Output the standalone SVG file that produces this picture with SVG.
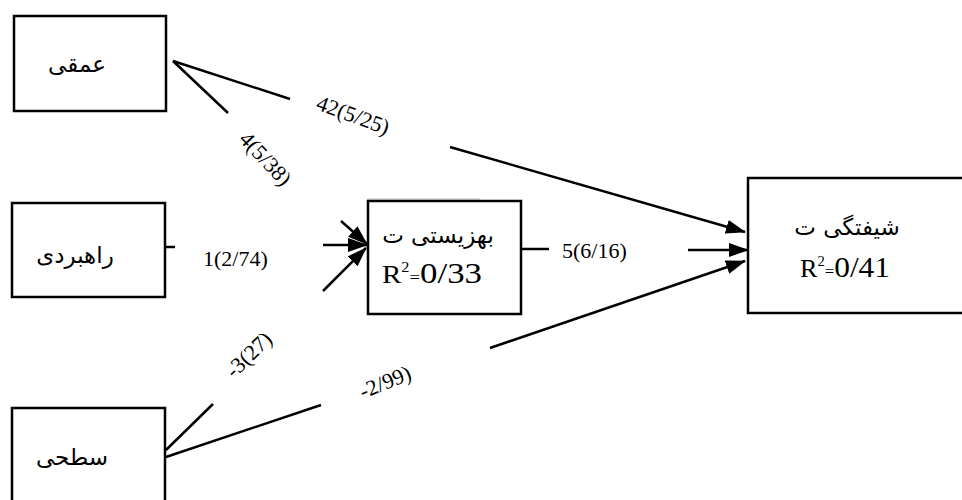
<svg xmlns="http://www.w3.org/2000/svg" width="962" height="500" viewBox="0 0 962 500">
<style>
.box{fill:#fff;stroke:#000;stroke-width:2.5}
.ln{stroke:#000;stroke-width:2.5;fill:none}
.fa{font-family:"DejaVu Sans","Noto Sans",sans-serif;font-size:23px;fill:#000}
.lb{font-family:"Liberation Serif","Times New Roman",serif;font-size:22px;fill:#000}
.r{font-family:"Liberation Serif","Times New Roman",serif;font-size:30px;fill:#000}
</style>
<defs>
<marker id="ahb" markerWidth="20" markerHeight="14" refX="19" refY="7" orient="auto" markerUnits="userSpaceOnUse" viewBox="0 0 20 14">
<path d="M0,0 L20,7 L0,14 Z" fill="#000"/>
</marker>
</defs>
<rect width="962" height="500" fill="#fff"/>
<g id="connectors">
<line class="ln" x1="173" y1="61" x2="290" y2="99"/>
<line class="ln" x1="173" y1="61" x2="228" y2="113"/>
<line class="ln" x1="450" y1="147" x2="745" y2="232" marker-end="url(#ahb)"/>
<line class="ln" x1="166" y1="247" x2="175" y2="247"/>
<line class="ln" x1="341" y1="221" x2="367" y2="244" marker-end="url(#ahb)"/>
<line class="ln" x1="323" y1="245" x2="367" y2="245" marker-end="url(#ahb)"/>
<line class="ln" x1="323" y1="291" x2="366" y2="248" marker-end="url(#ahb)"/>
<line class="ln" x1="521" y1="249" x2="549" y2="249"/>
<line class="ln" x1="688" y1="250" x2="748" y2="250" marker-end="url(#ahb)"/>
<line class="ln" x1="166" y1="450" x2="213" y2="404"/>
<line class="ln" x1="166" y1="457" x2="321" y2="405"/>
<line class="ln" x1="490" y1="348" x2="745" y2="261" marker-end="url(#ahb)"/>
<line x1="367" y1="199" x2="480" y2="199" stroke="#bbb" stroke-width="1"/>
</g>
<g id="labels">
<text class="lb" transform="translate(315,109) rotate(20)">42(5/25)</text>
<text class="lb" transform="translate(238,140) rotate(47)">4(5/38)</text>
<text class="lb" x="203" y="266">1(2/74)</text>
<text class="lb" x="562" y="258">5(6/16)</text>
<text class="lb" transform="translate(234,379) rotate(-44)">-3(27)</text>
<text class="lb" transform="translate(363,399) rotate(-22)">-2/99)</text>
</g>
<g id="node-amighi">
<rect class="box" x="14" y="16" width="152" height="95"/>
<text class="fa" x="77" y="72" text-anchor="middle" direction="rtl">عمقی</text>
</g>
<g id="node-rahbordi">
<rect class="box" x="12" y="203" width="153" height="94"/>
<text class="fa" x="75" y="263" text-anchor="middle" direction="rtl">راهبردی</text>
</g>
<g id="node-sathi">
<rect class="box" x="12" y="408" width="153" height="110"/>
<text class="fa" x="72" y="465" text-anchor="middle" direction="rtl">سطحی</text>
</g>
<g id="node-behzisti">
<rect class="box" x="368" y="201" width="153" height="113"/>
<text class="fa" x="438" y="243" text-anchor="middle" direction="rtl">بهزیستی ت</text>
<text class="r" x="382" y="283" textLength="100" lengthAdjust="spacingAndGlyphs"><tspan font-size="25">R</tspan><tspan font-size="14" dy="-11">2</tspan><tspan font-size="16" dy="11">=</tspan>0/33</text>
</g>
<g id="node-shiftegi">
<rect class="box" x="748" y="178" width="230" height="135"/>
<text class="fa" x="847" y="235" text-anchor="middle" direction="rtl">شیفتگی ت</text>
<text class="r" x="800" y="277" textLength="90" lengthAdjust="spacingAndGlyphs"><tspan font-size="25">R</tspan><tspan font-size="14" dy="-11">2</tspan><tspan font-size="16" dy="11">=</tspan>0/41</text>
</g>
</svg>
